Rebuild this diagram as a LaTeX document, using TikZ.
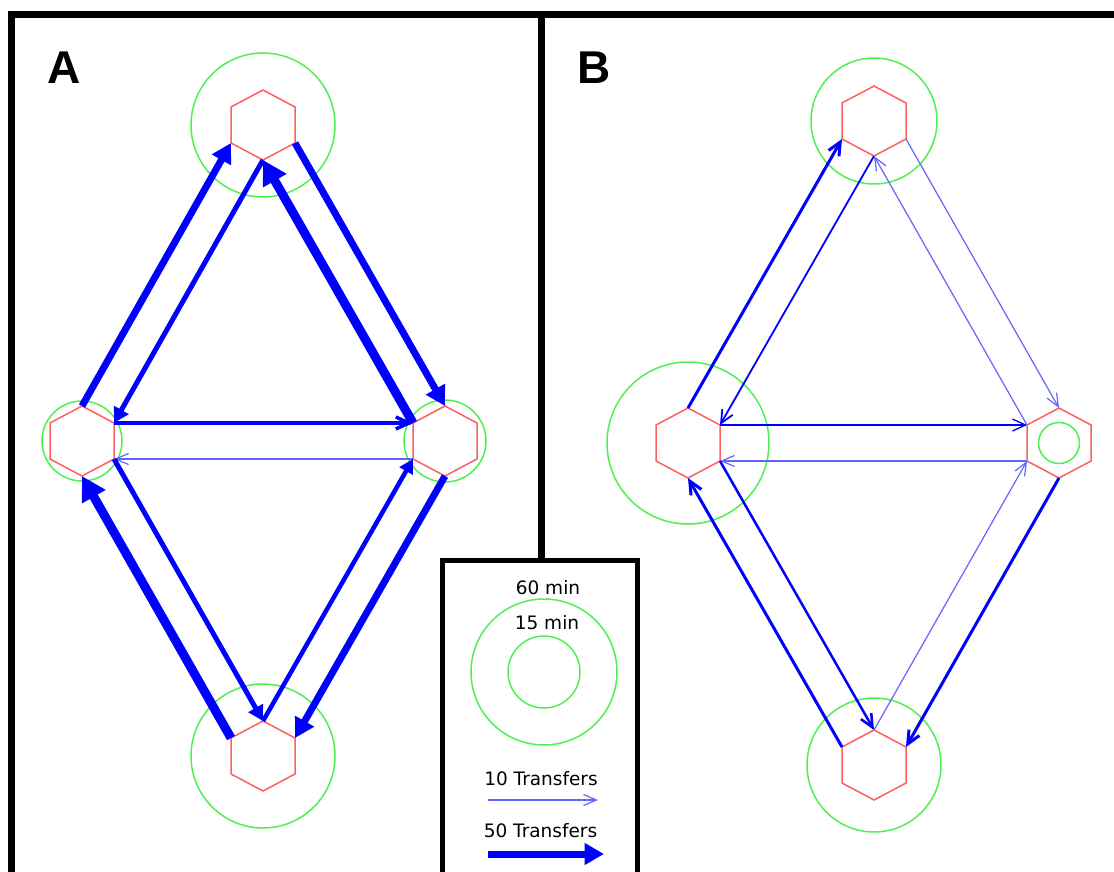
\documentclass[tikz,border=0pt]{standalone}
\usepackage{fontspec}
\setmainfont{DejaVu Sans}
\newfontfamily\labfont{Liberation Sans}
\usetikzlibrary{arrows.meta}
\definecolor{hexred}{RGB}{255,95,95}
\definecolor{ringgreen}{RGB}{80,240,80}
\definecolor{arrblue}{RGB}{0,0,255}
\definecolor{lightblue}{RGB}{100,100,255}
\tikzset{
  hexline/.style={draw=hexred, line width=1.5pt, line join=miter},
  ring/.style={draw=ringgreen, line width=1.5pt},
  fat/.style={draw=arrblue, line width=#1, -{Triangle[length=4pt 2.2, width=4pt 2.4]}},
  slim/.style={draw=arrblue, line width=#1, -{Straight Barb[length=13pt, width=12pt]}},
  faint/.style={draw=lightblue, line width=1.2pt, -{Straight Barb[length=13pt, width=11pt]}},
  bline/.style={draw=black, line width=7.5pt},
  legtext/.style={anchor=base, inner sep=0pt, font=\fontsize{18.5}{22}\selectfont},
  panlabel/.style={anchor=base, inner sep=0pt, font=\labfont\fontsize{46}{50}\selectfont\bfseries},
}
\newcommand\hexat[3]{%
  \path (#2,#3) coordinate (#1)
    +(0,-35) coordinate (#1-t)
    +(32,-18) coordinate (#1-ur)
    +(32,18) coordinate (#1-lr)
    +(0,35) coordinate (#1-b)
    +(-32,18) coordinate (#1-ll)
    +(-32,-18) coordinate (#1-ul);
  \draw[hexline] (#1-t)--(#1-ur)--(#1-lr)--(#1-b)--(#1-ll)--(#1-ul)--cycle;
}
\begin{document}
\begin{tikzpicture}[x=1pt,y=-1pt]
\useasboundingbox (0,0) rectangle (1114,872);
\fill[white] (0,0) rectangle (1114,872);

% frame
\draw[bline] (8,14.5) -- (1114,14.5);
\draw[bline] (11.7,11) -- (11.7,872);
\draw[bline] (541.7,14.5) -- (541.7,560);
\draw[draw=black, line width=5pt] (442.5,880) -- (442.5,560) -- (637.5,560) -- (637.5,880);

% panel labels
\node[panlabel] (labA) at (64,84) {A};
\node[panlabel] (labB) at (594,84) {B};

% panel A
\hexat{AT}{263}{125}
\hexat{AL}{82}{441}
\hexat{AR}{445}{441}
\hexat{ABo}{263}{756}
\draw[ring] (AT) circle[radius=72];
\draw[ring] (AL) circle[radius=40];
\draw[ring] (AR) circle[radius=41];
\draw[ring] (ABo) circle[radius=72];

\draw[fat=7pt] (AL-t) -- (AT-ll);
\draw[fat=5pt] (AT-b) -- (AL-ur);
\draw[fat=7pt] (AT-lr) -- (AR-t);
\draw[fat=9pt] (AR-ul) -- (AT-b);
\draw[slim=3.5pt] (AL-ur) -- (AR-ul);
\draw[faint] (AR-ll) -- (AL-lr);
\draw[fat=5pt] (AL-lr) -- (ABo-t);
\draw[fat=9pt] (ABo-ul) -- (AL-b);
\draw[fat=4.5pt] (ABo-t) -- (AR-ll);
\draw[fat=7pt] (AR-b) -- (ABo-ur);

% panel B
\hexat{BT}{874}{121}
\hexat{BL}{688}{443}
\hexat{BR}{1059}{443}
\hexat{BBo}{874}{765}
\draw[ring] (BT) circle[radius=63];
\draw[ring] (BL) circle[radius=81];
\draw[ring] (BR) circle[radius=20.5];
\draw[ring] (BBo) circle[radius=67];

\draw[slim=3pt] (BL-t) -- (BT-ll);
\draw[slim=1.8pt] (BT-b) -- (BL-ur);
\draw[faint] (BR-ul) -- (BT-b);
\draw[faint] (BT-lr) -- (BR-t);
\draw[slim=1.3pt] (BL-ur) -- (BR-ul);
\draw[faint] (BR-ll) -- (BL-lr);
\draw[slim=2.5pt] (BL-lr) -- (BBo-t);
\draw[slim=3pt] (BBo-ul) -- (BL-b);
\draw[faint] (BBo-t) -- (BR-ll);
\draw[slim=3pt] (BR-b) -- (BBo-ur);

% legend
\coordinate (lc) at (544,672);
\draw[ring] (lc) circle[radius=73];
\draw[ring] (lc) circle[radius=36];
\node[legtext] (t60) at (548,594) {60 min};
\node[legtext] (t15) at (547,629) {15 min};
\node[legtext] (t10) at (541,785) {10 Transfers};
\node[legtext] (t50) at (540.5,837) {50 Transfers};
\coordinate (a10s) at (488,800);
\coordinate (a10e) at (598,800);
\coordinate (a50s) at (488,854);
\coordinate (a50e) at (604,854);
\draw[faint] (a10s) -- (a10e);
\draw[fat=7pt] (a50s) -- (a50e);
\end{tikzpicture}
\end{document}
